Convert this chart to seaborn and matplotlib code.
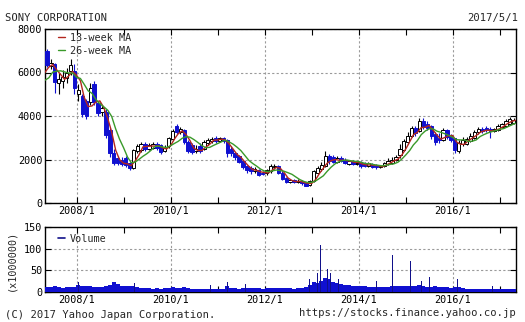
import numpy as np
import pandas as pd
import matplotlib
matplotlib.use("Agg")
import matplotlib.pyplot as plt
import matplotlib.dates as mdates
from matplotlib.ticker import FuncFormatter
import seaborn as sns

# ---------------- data (monthly candles, 2007/5 .. 2017/4) ----------------
months = pd.date_range("2007-05-01", "2017-04-01", freq="MS")
opens = [7000, 6300, 6400, 5500, 5600, 5750, 6050, 6050,
         5000, 4900, 4700, 4650, 5450, 4600, 4200, 4200, 3350, 2300, 2050, 2000,
         2050, 1850, 1600, 2400, 2450, 2700, 2500, 2550, 2700, 2650, 2400, 2600,
         2950, 3550, 3250, 3350, 2800, 2650, 2400, 2600, 2500, 2750, 2850, 3000,
         2850, 3000, 2900, 2500, 2300, 2150, 1950, 1700, 1600, 1450, 1500, 1400,
         1380, 1450, 1650, 1700, 1400, 1150, 950, 1050, 950, 1000, 900, 820,
         1000, 1400, 1550, 1700, 2150, 2100, 1900, 2050, 2000, 1800, 1950, 1800,
         1900, 1850, 1700, 1800, 1750, 1650, 1700, 1800, 1850, 2000, 2200, 2450,
         2800, 3100, 3450, 3300, 3750, 3650, 3550, 3150, 3000, 2900, 3350, 3100,
         3000, 2400, 2700, 2700, 2850, 3000, 3250, 3400, 3450, 3400, 3300, 3350,
         3500, 3550, 3650, 3700]
closes = [6350, 6450, 5560, 5700, 5800, 6000, 6350, 5300,
          5200, 4100, 4000, 5290, 4650, 4140, 4350, 3130, 2300, 1840, 1840, 1800,
          1750, 1600, 2450, 2600, 2700, 2500, 2650, 2700, 2550, 2350, 2550, 3000,
          3300, 3250, 3400, 2800, 2400, 2350, 2500, 2400, 2800, 2900, 2950, 2850,
          3000, 2850, 2300, 2300, 2100, 1900, 1650, 1500, 1450, 1550, 1300, 1350,
          1500, 1700, 1700, 1400, 1100, 950, 1050, 950, 1000, 900, 800, 1000,
          1450, 1600, 1750, 2150, 1950, 1900, 2050, 1950, 1850, 1950, 1800, 1850,
          1700, 1700, 1850, 1650, 1650, 1700, 1850, 1950, 2000, 2100, 2500, 2850,
          3100, 3450, 3200, 3750, 3500, 3450, 3100, 2800, 2900, 3350, 3050, 2900,
          2450, 2750, 2900, 2950, 3100, 3250, 3400, 3300, 3350, 3300, 3400, 3550,
          3650, 3750, 3850, 3800]
highs = [7100, 6600, 6450, 6000, 6100, 6200, 6600, 6400,
         5450, 5000, 4800, 5500, 5600, 4700, 4500, 4300, 3450, 2500, 2150, 2100,
         2150, 1900, 2500, 2700, 2800, 2800, 2750, 2800, 2800, 2700, 2650, 3050,
         3400, 3650, 3500, 3400, 2900, 2750, 2650, 2750, 2900, 3000, 3050, 3100,
         3050, 3050, 2950, 2600, 2350, 2200, 2000, 1750, 1700, 1650, 1550, 1450,
         1550, 1800, 1800, 1750, 1450, 1200, 1100, 1100, 1100, 1050, 950, 1050,
         1500, 1700, 1900, 2400, 2250, 2200, 2150, 2150, 2050, 2000, 2000, 1900,
         1950, 1900, 1900, 1850, 1800, 1750, 1900, 2050, 2100, 2200, 2700, 2950,
         3250, 3550, 3550, 3900, 3900, 3750, 3600, 3250, 3200, 3450, 3400, 3150,
         3000, 2900, 3050, 3050, 3200, 3350, 3500, 3500, 3550, 3500, 3450, 3650,
         3700, 3850, 3950, 3900]
lows = [6250, 6150, 5060, 5000, 5300, 5500, 5900, 5000,
        4700, 3950, 3850, 4500, 4500, 4000, 4000, 3000, 2100, 1750, 1750, 1700,
        1650, 1500, 1550, 2300, 2350, 2400, 2450, 2500, 2450, 2250, 2350, 2550,
        2900, 3150, 3150, 2700, 2300, 2250, 2300, 2300, 2450, 2650, 2750, 2750,
        2800, 2750, 2100, 2150, 2000, 1850, 1550, 1400, 1350, 1380, 1250, 1300,
        1300, 1400, 1550, 1350, 1050, 900, 900, 900, 900, 850, 770, 780,
        950, 1350, 1450, 1650, 1800, 1850, 1850, 1900, 1800, 1750, 1750, 1750,
        1620, 1650, 1650, 1600, 1550, 1600, 1650, 1750, 1800, 1950, 2050, 2400,
        2700, 3050, 3100, 3250, 3400, 3350, 2950, 2650, 2750, 2850, 2950, 2800,
        2300, 2300, 2600, 2650, 2800, 2950, 3150, 3200, 3250, 3000, 3250, 3300,
        3450, 3500, 3600, 3650]
pre_months = pd.date_range("2006-12-01", "2007-04-01", freq="MS")
pre_close = [4900, 5300, 5600, 6100, 6300]

# volume (x1,000,000 shares): monthly base level plus weekly spikes
volume = [12, 11, 13, 12, 10, 11, 11, 12,
          16, 14, 15, 13, 12, 11, 12, 13, 16, 22, 18, 15,
          13, 14, 15, 11, 10, 9, 9, 8, 9, 8, 9, 10,
          11, 9, 9, 11, 10, 8, 8, 8, 8, 8, 7, 7,
          8, 8, 14, 10, 9, 8, 9, 10, 9, 10, 9, 8,
          9, 10, 10, 10, 9, 9, 9, 8, 9, 10, 12, 16,
          22, 20, 25, 32, 30, 24, 20, 18, 16, 16, 15, 13,
          14, 13, 12, 12, 11, 11, 12, 11, 13, 14, 14, 13,
          14, 15, 14, 16, 14, 12, 12, 13, 11, 12, 11, 10,
          12, 11, 10, 8, 8, 7, 7, 6, 6, 6, 7, 7,
          7, 7, 8, 8]
spike_dates = ["2008-01-18", "2008-10-24", "2009-03-27", "2010-05-14", "2010-11-05",
               "2011-03-18", "2011-08-05", "2012-02-03", "2012-04-13", "2012-11-09",
               "2012-12-14", "2013-01-11", "2013-01-25", "2013-02-15", "2013-03-08",
               "2013-03-29", "2013-04-19", "2013-05-03", "2013-05-24", "2013-06-14",
               "2013-07-26", "2013-11-08", "2014-01-10", "2014-05-16", "2014-09-19",
               "2014-10-31", "2015-02-06", "2015-05-01", "2015-07-03", "2015-10-30",
               "2016-02-05", "2016-05-13", "2016-11-04"]
spike_vals = [23, 36, 20, 21, 17, 22, 18, 18, 17, 67,
              30, 101, 95, 45, 108, 50, 40, 53, 45, 35,
              30, 69, 35, 25, 85, 28, 72, 25, 35, 22,
              30, 20, 15]

title_left = "SONY CORPORATION"
title_right = "2017/5/1"
footer_left = "(C) 2017 Yahoo Japan Corporation."
footer_right = "https://stocks.finance.yahoo.co.jp"

# ---------------- styling ----------------
sns.set_theme(style="white")
plt.rcParams["font.family"] = ["DejaVu Sans Mono"]
FS = 7.3
BLUE = "#1010d0"
RED = "#b3261e"
GREEN = "#3a9a2a"
GRID = "#9a9a9a"

W, H = 525, 322
fig = plt.figure(figsize=(W / 100, H / 100), dpi=100)
fig.patch.set_facecolor("white")


def rect(l, t, r, b):
    return [l / W, 1 - b / H, (r - l) / W, (b - t) / H]


axp = fig.add_axes(rect(45, 29, 516, 203))
axv = fig.add_axes(rect(45, 227, 516, 292))

df = pd.DataFrame({"date": months, "open": opens, "close": closes,
                   "high": highs, "low": lows})
df["mid"] = df["date"] + pd.Timedelta(days=15)

# moving averages (13-week ~ 3 months, 26-week ~ 6 months), placed at month end
allc = pd.DataFrame({"date": list(pre_months) + list(months),
                     "close": pre_close + closes})
allc["end"] = allc["date"] + pd.offsets.MonthEnd(0)
allc["ma13"] = allc["close"].rolling(3, min_periods=1).mean()
allc["ma26"] = allc["close"].rolling(6, min_periods=1).mean()

# candles
up = df["close"] >= df["open"]
axp.vlines(df.loc[up, "mid"], df.loc[up, "low"], df.loc[up, "high"],
           color="black", lw=0.8, zorder=3)
axp.vlines(df.loc[~up, "mid"], df.loc[~up, "low"], df.loc[~up, "high"],
           color=BLUE, lw=0.8, zorder=3)
body_lo = np.minimum(df["open"], df["close"])
body_h = np.abs(df["close"] - df["open"]).clip(lower=25)
axp.bar(df.loc[up, "mid"], body_h[up], bottom=body_lo[up], width=25,
        color="white", edgecolor="black", linewidth=0.7, zorder=4)
axp.bar(df.loc[~up, "mid"], body_h[~up], bottom=body_lo[~up], width=25,
        color=BLUE, edgecolor=BLUE, linewidth=0.7, zorder=4)

sns.lineplot(data=allc, x="end", y="ma13", ax=axp, color=RED, lw=1.0,
             label="13-week MA", zorder=5)
sns.lineplot(data=allc, x="end", y="ma26", ax=axp, color=GREEN, lw=1.0,
             label="26-week MA", zorder=5)

# volume
axv.bar(df["mid"], volume, width=31, color=BLUE, linewidth=0, zorder=3)
axv.bar(pd.to_datetime(spike_dates), spike_vals, width=4, color="#10108a",
        linewidth=0, zorder=4)
axv.plot([], [], color="#10108a", lw=1.2, label="Volume")

# axes formatting
xmin, xmax = pd.Timestamp("2007-05-01"), pd.Timestamp("2017-05-05")
fmt = FuncFormatter(lambda v, p: "%d/1" % mdates.num2date(v).year)
for ax in (axp, axv):
    ax.set_xlim(xmin, xmax)
    ax.xaxis.set_major_locator(mdates.YearLocator(2))
    ax.xaxis.set_minor_locator(mdates.YearLocator(1))
    ax.xaxis.set_major_formatter(fmt)
    ax.set_xlabel("")
    ax.set_ylabel("")
    ax.set_facecolor("white")
    for s in ax.spines.values():
        s.set_visible(True)
        s.set_color("black")
        s.set_linewidth(1.0)
    ax.tick_params(which="both", direction="in", top=True, right=True,
                   bottom=True, left=True, length=4, width=0.8,
                   colors="black", labelsize=FS, pad=2)
    ax.grid(True, which="major", color=GRID, lw=0.8, ls=(0, (2, 2)))
    ax.set_axisbelow(True)

axp.set_ylim(0, 8000)
axp.set_yticks([0, 2000, 4000, 6000, 8000])
axv.set_ylim(0, 150)
axv.set_yticks([0, 50, 100, 150])

axp.legend(loc="upper left", bbox_to_anchor=(0.01, 1.025), frameon=False,
           handlelength=0.7, handletextpad=0.5, labelspacing=0.3,
           borderpad=0.3, fontsize=FS)
axv.legend(loc="upper left", bbox_to_anchor=(0.01, 1.02), frameon=False,
           handlelength=0.7, handletextpad=0.5, borderpad=0.3, fontsize=FS)

fig.text(5 / W, 1 - 18 / H, title_left, fontsize=7.6, ha="left", va="center")
fig.text(518 / W, 1 - 18 / H, title_right, fontsize=7.6, ha="right", va="center")
fig.text(5 / W, 1 - 315 / H, footer_left, fontsize=7.6, ha="left", va="center")
fig.text(516 / W, 1 - 313 / H, footer_right, fontsize=7.6, ha="right", va="center")
fig.text(11 / W, 1 - 260 / H, "(x1000000)", fontsize=7.3, rotation=90,
         ha="center", va="center")

fig.savefig("out.png", dpi=100, facecolor="white")
